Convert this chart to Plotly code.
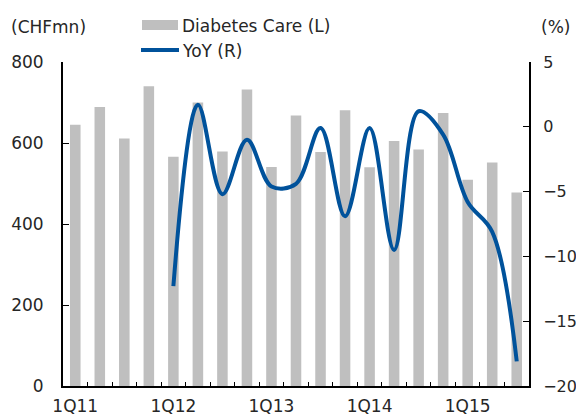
import plotly.graph_objects as go

quarters = ["1Q11","2Q11","3Q11","4Q11","1Q12","2Q12","3Q12","4Q12",
            "1Q13","2Q13","3Q13","4Q13","1Q14","2Q14","3Q14","4Q14",
            "1Q15","2Q15","3Q15"]
sales = [645, 689, 611, 740, 566, 700, 579, 732, 541, 668, 578, 681,
         540, 605, 584, 674, 509, 552, 478]
yoy_quarters = quarters[4:]
yoy = [-12.3, 1.7, -5.2, -1.0, -4.6, -4.4, -0.1, -6.9, -0.1, -9.5,
       1.2, -0.6, -5.8, -8.1, -18.1]
tick_labels = [q if q.startswith("1Q") else "" for q in quarters]

FONT = "DejaVu Sans, sans-serif"
TXT = "#262626"
BAR_COLOR = "#BFBFBF"
LINE_COLOR = "#00529B"

# The page body has an 8px margin, so the figure is sized/offset to compensate.
# Target plot area in window pixels: x 63..529, y 62..386
def px_x(p):
    return (p - 63) / 466.0

def px_y(p):
    return (386 - p) / 324.0

fig = go.Figure()
fig.add_trace(go.Bar(x=quarters, y=sales, name="Diabetes Care (L)",
                     marker=dict(color=BAR_COLOR, line=dict(width=0)),
                     width=0.43, yaxis="y", showlegend=False))
fig.add_trace(go.Scatter(x=yoy_quarters, y=yoy, name="YoY (R)", mode="lines",
                         line=dict(color=LINE_COLOR, width=4, shape="spline", smoothing=1.0),
                         yaxis="y2", showlegend=False))

shapes = [
    dict(type="rect", xref="paper", yref="paper",
         x0=px_x(142), x1=px_x(178), y0=px_y(30), y1=px_y(20),
         fillcolor=BAR_COLOR, line=dict(width=0)),
    dict(type="line", xref="paper", yref="paper",
         x0=px_x(141), x1=px_x(179), y0=px_y(50), y1=px_y(50),
         line=dict(color=LINE_COLOR, width=4)),
]

annotations = [
    dict(text="Diabetes Care (L)", xref="paper", yref="paper", x=px_x(180), y=px_y(26),
         xanchor="left", yanchor="middle", showarrow=False),
    dict(text="YoY (R)", xref="paper", yref="paper", x=px_x(180), y=px_y(51),
         xanchor="left", yanchor="middle", showarrow=False),
    dict(text="(CHFmn)", xref="paper", yref="paper", x=px_x(9), y=px_y(27),
         xanchor="left", yanchor="middle", showarrow=False),
    dict(text="(%)", xref="paper", yref="paper", x=px_x(572), y=px_y(27),
         xanchor="right", yanchor="middle", showarrow=False),
]

fig.update_layout(
    width=576, height=409,
    margin=dict(l=55, r=55, t=54, b=31, autoexpand=False),
    paper_bgcolor="white", plot_bgcolor="white",
    font=dict(family=FONT, size=17, color=TXT),
    showlegend=False,
    bargap=0.5,
    shapes=shapes,
    annotations=annotations,
    xaxis=dict(type="category", tickvals=quarters, ticktext=tick_labels,
               tickson="boundaries", ticks="inside", ticklen=4, tickwidth=1,
               tickcolor="black", showline=True, linecolor="black", linewidth=2,
               showgrid=False, zeroline=False, tickangle=0, automargin=False,
               ticklabelstandoff=4),
    yaxis=dict(range=[0, 800], dtick=200, ticks="inside", ticklen=6, tickwidth=1,
               tickcolor="black", showline=True, linecolor="black", linewidth=2,
               showgrid=False, zeroline=False, ticklabelstandoff=14, automargin=False),
    yaxis2=dict(range=[-20, 5], dtick=5, overlaying="y", side="right",
                ticks="inside", ticklen=6, tickwidth=1, tickcolor="black",
                showline=True, linecolor="black", linewidth=2,
                tickfont=dict(size=16),
                showgrid=False, zeroline=False, ticklabelstandoff=9, automargin=False),
)
fig.write_html("out.html")
